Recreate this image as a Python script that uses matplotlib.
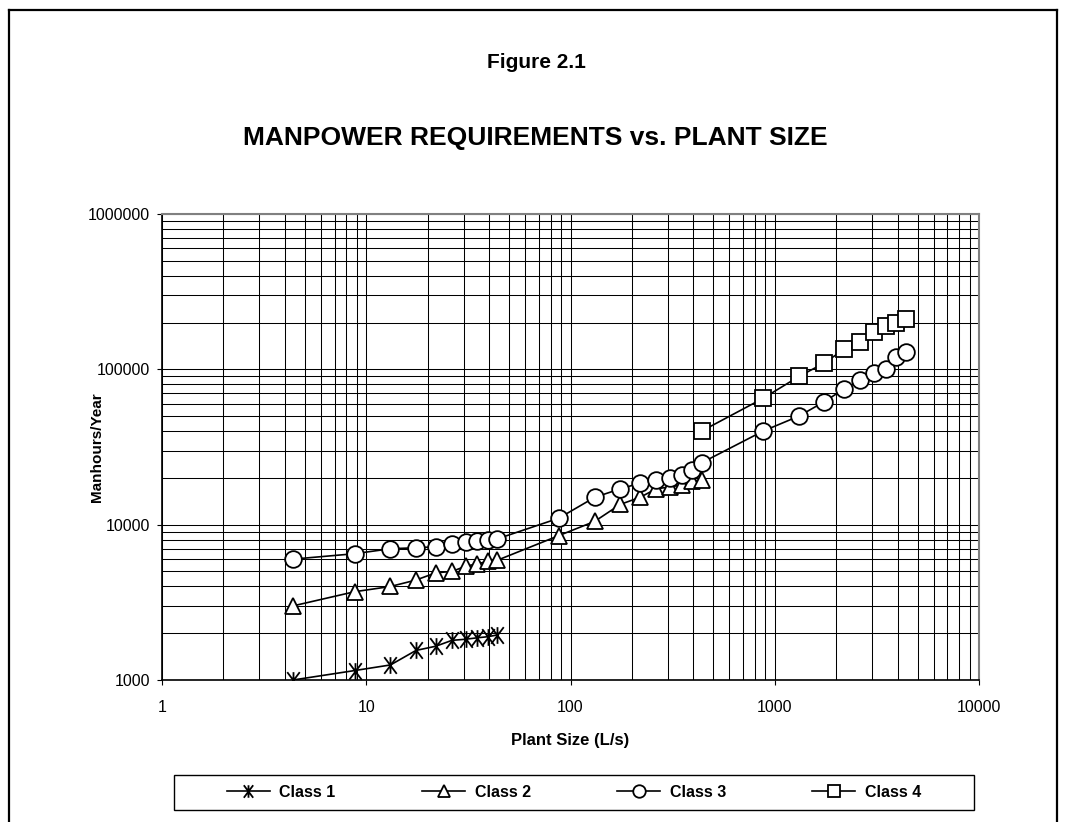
#!/usr/bin/env python3
"""
Manpower requirements vs. plant size (Figure 2.1), log-log chart.
"""

import matplotlib
matplotlib.use('Agg')
import matplotlib.pyplot as plt
import matplotlib.patches as patches
from matplotlib.path import Path

# ── Data ────────────────────────────────────────────────────────────────────
size_small = [4.38, 8.76, 13.14, 17.52, 21.9, 26.28, 30.66, 35.04, 39.42, 43.8]
size_mid = [87.6, 131.4, 175.2, 219.0, 262.8, 306.6, 350.4, 394.2, 438.0]
size_large = [876.0, 1314.0, 1752.0, 2190.0, 2628.0, 3066.0, 3504.0, 3942.0, 4380.0]

class1_x = size_small
class1_y = [1000, 1150, 1250, 1550, 1650, 1800, 1830, 1870, 1900, 1950]

class2_x = size_small + size_mid
class2_y = [3000, 3700, 4000, 4400, 4900, 5000, 5400, 5600, 5800, 5900,
            8500, 10500, 13500, 15000, 17000, 17500, 18000, 19000, 19500]

class3_x = size_small + size_mid + size_large
class3_y = [6000, 6500, 7000, 7100, 7200, 7500, 7700, 7900, 8000, 8100,
            11000, 15000, 17000, 18500, 19500, 20000, 21000, 22500, 25000,
            40000, 50000, 62000, 75000, 85000, 95000, 100000, 120000, 130000]

class4_x = [438.0] + size_large
class4_y = [40000, 65000, 90000, 110000, 135000, 150000, 175000, 190000,
            200000, 210000]

labels = ["Class 1", "Class 2", "Class 3", "Class 4"]
x_ticks = [1, 10, 100, 1000, 10000]
y_ticks = [1000, 10000, 100000, 1000000]

# fonts
BOLD = ['Liberation Sans', 'DejaVu Sans']
REGULAR = ['Liberation Sans', 'DejaVu Sans']

# Excel-like star marker: vertical bar plus an X
star = Path([(0, -1), (0, 1), (-0.75, -1), (0.75, 1), (-0.75, 1), (0.75, -1)],
            [Path.MOVETO, Path.LINETO, Path.MOVETO, Path.LINETO,
             Path.MOVETO, Path.LINETO])

W, H = 1066, 822
fig = plt.figure(figsize=(W / 100, H / 100), dpi=100)

# outer frame of the page
fig.add_artist(plt.Line2D([9 / W, 9 / W], [0, 1 - 10 / H], color='black', lw=1.6))
fig.add_artist(plt.Line2D([1057 / W, 1057 / W], [0, 1 - 10 / H], color='black', lw=1.6))
fig.add_artist(plt.Line2D([9 / W, 1057 / W], [1 - 10 / H, 1 - 10 / H], color='black', lw=1.6))

ax = fig.add_axes([162 / W, 1 - 680 / H, (979 - 162) / W, (680 - 214) / H])

common = dict(color='black', linewidth=1.2, markerfacecolor='white',
              markeredgecolor='black', markeredgewidth=1.3)
ax.plot(class1_x, class1_y, marker=star, markersize=12, label=labels[0], **common)
ax.plot(class2_x, class2_y, marker='^', markersize=12, label=labels[1], **common)
ax.plot(class3_x, class3_y, marker='o', markersize=12, label=labels[2], **common)
ax.plot(class4_x, class4_y, marker='s', markersize=11.5, label=labels[3], **common)

ax.set_xscale('log')
ax.set_yscale('log')
ax.set_xlim(1, 10000)
ax.set_ylim(1000, 1000000)
ax.set_xticks(x_ticks)
ax.set_xticklabels([str(v) for v in x_ticks])
ax.set_yticks(y_ticks)
ax.set_yticklabels([str(v) for v in y_ticks])
ax.tick_params(which='major', direction='out', length=3.6, width=0.8)
ax.tick_params(axis='y', pad=5)
ax.tick_params(axis='x', pad=11)
ax.tick_params(which='minor', length=0)
for lab in ax.get_xticklabels() + ax.get_yticklabels():
    lab.set_family(REGULAR)
    lab.set_fontsize(11.5)

ax.set_axisbelow(True)
ax.grid(True, which='both', color='black', linewidth=0.75)
ax.spines['left'].set_linewidth(1.2)
ax.spines['bottom'].set_linewidth(1.2)
ax.spines['top'].set_color('#808080')
ax.spines['right'].set_color('#808080')
ax.spines['top'].set_linewidth(1.5)
ax.spines['right'].set_linewidth(1.5)

# ── Titles and axis labels ──────────────────────────────────────────────────
fig.text(0.503, 1 - 63 / H, "Figure 2.1", ha='center', va='center',
         fontsize=15, fontweight='bold', family=BOLD)
fig.text(0.502, 1 - 138 / H, "MANPOWER REQUIREMENTS vs. PLANT SIZE",
         ha='center', va='center', fontsize=19, fontweight='bold', family=BOLD)
fig.text(97 / W, 1 - 447 / H, "Manhours/Year", rotation=90, ha='center',
         va='center', fontsize=11, fontweight='bold', family=BOLD)
fig.text(570 / W, 1 - 740 / H, "Plant Size (L/s)", ha='center', va='center',
         fontsize=12, fontweight='bold', family=BOLD)

# ── Legend (box drawn separately to get Excel's wide padding) ───────────────
fig.add_artist(patches.Rectangle((174 / W, 1 - 810 / H), 800 / W, 35 / H,
                                 transform=fig.transFigure, fill=False,
                                 edgecolor='black', linewidth=1.0))
handles, _ = ax.get_legend_handles_labels()
fig.legend(handles, labels, loc='center', bbox_to_anchor=(574 / W, 1 - 792 / H),
           ncol=4, frameon=False, markerscale=0.75, handlelength=2.7,
           handletextpad=0.6, columnspacing=5.4,
           prop={'family': BOLD, 'weight': 'bold', 'size': 11.5})

fig.savefig('out.png', dpi=100)
